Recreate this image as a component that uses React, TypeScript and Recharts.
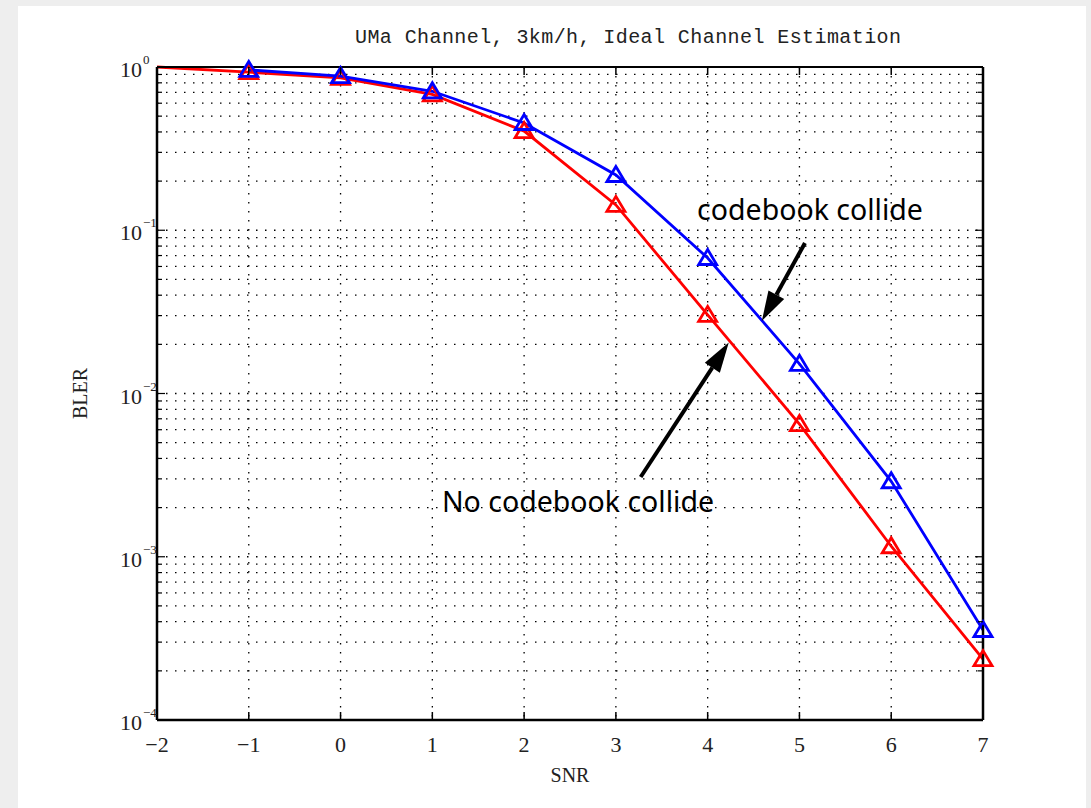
import React from "react";
import {
  LineChart,
  Line,
  XAxis,
  YAxis,
  CartesianGrid,
  ReferenceLine,
  ReferenceDot,
} from "recharts";

const snr = [-2, -1, 0, 1, 2, 3, 4, 5, 6, 7];
const noCollide = [1.0, 0.93, 0.857, 0.68, 0.405, 0.143, 0.0303, 0.0065, 0.00116, 0.000236];
const collide = [null, 0.96, 0.88, 0.71, 0.454, 0.218, 0.0676, 0.0152, 0.0029, 0.000356];

const xTicks = [-2, -1, 0, 1, 2, 3, 4, 5, 6, 7];
const xGrid = [-1, 0, 1, 2, 3, 4, 5, 6];
const decades = [1e-4, 1e-3, 1e-2, 1e-1, 1];
const decadeLabels = ["\u22124", "\u22123", "\u22122", "\u22121", "0"];

const yTicks: number[] = [];
decades.slice(0, 4).forEach((d) => {
  for (let m = 1; m < 10; m++) yTicks.push(+(d * m).toPrecision(3));
});
yTicks.push(1);
const yGrid = yTicks.filter((v) => v > 1e-4 && v < 1);

const data = snr.map((s, i) => ({
  snr: s,
  red: noCollide[i],
  blue: collide[i],
}));

const SERIF = "'Liberation Serif', 'DejaVu Serif', serif";
const SANS = "'Noto Sans', 'Open Sans', sans-serif";

const isDecade = (v: number) => decades.some((d) => Math.abs(v - d) / d < 1e-6);

const LeftTick = (props: any) => {
  const { x, y, payload } = props;
  const v = payload.value;
  const major = isDecade(v);
  const idx = decades.findIndex((d) => Math.abs(v - d) / d < 1e-6);
  return (
    <g>
      <line x1={x} y1={y} x2={x + (major ? 8 : 5)} y2={y} stroke="#000" strokeWidth={1.2} />
      {major && (
        <text x={x - 15} y={y + 10} textAnchor="end" fontFamily={SERIF} fontSize={22} fill="#222">
          10
        </text>
      )}
      {major && (
        <text x={x - 14} y={y - 3} textAnchor="start" fontFamily={SERIF} fontSize={13} fill="#222">
          {decadeLabels[idx]}
        </text>
      )}
    </g>
  );
};

const RightTick = (props: any) => {
  const { x, y, payload } = props;
  const major = isDecade(payload.value);
  return <line x1={x} y1={y} x2={x - (major ? 8 : 5)} y2={y} stroke="#000" strokeWidth={1.2} />;
};

const BottomTick = (props: any) => {
  const { x, y, payload } = props;
  const v = payload.value;
  return (
    <g>
      <line x1={x} y1={y} x2={x} y2={y - 8} stroke="#000" strokeWidth={1.5} />
      <text x={x} y={y + 32} textAnchor="middle" fontFamily={SERIF} fontSize={22} fill="#222">
        {v < 0 ? "\u2212" + Math.abs(v) : String(v)}
      </text>
    </g>
  );
};

const TopTick = (props: any) => {
  const { x, y } = props;
  return <line x1={x} y1={y} x2={x} y2={y + 8} stroke="#000" strokeWidth={1.5} />;
};

const triangle = (color: string) => (props: any) => {
  const { cx, cy, payload, value } = props;
  if (value == null || cx == null || cy == null) return <g key={`n${cx}`} />;
  if (payload && payload.snr === -2) return <g key={`s${cx}`} />;
  return (
    <path
      key={`t${cx}-${color}`}
      d={`M${cx},${cy - 8.5} L${cx - 9},${cy + 6.5} L${cx + 9},${cy + 6.5} Z`}
      fill="none"
      stroke={color}
      strokeWidth={2.8}
      strokeLinejoin="miter"
    />
  );
};

const Arrow = (props: any) => {
  const { x1, y1, x2, y2 } = props;
  if (x1 == null) return <g />;
  const dx = x2 - x1;
  const dy = y2 - y1;
  const len = Math.sqrt(dx * dx + dy * dy);
  const ux = dx / len;
  const uy = dy / len;
  const head = 30;
  const half = 9;
  const bx = x2 - ux * head;
  const by = y2 - uy * head;
  return (
    <g>
      <line x1={x1} y1={y1} x2={bx} y2={by} stroke="#000" strokeWidth={4} />
      <polygon
        points={`${x2},${y2} ${bx - uy * half},${by + ux * half} ${bx + uy * half},${by - ux * half}`}
        fill="#000"
      />
    </g>
  );
};

// arrow ends and label anchors in data units
const arrowCollide = [{ x: 5.06, y: 0.0835 }, { x: 4.59, y: 0.0278 }];
const arrowNoCollide = [{ x: 3.27, y: 0.00308 }, { x: 4.23, y: 0.0205 }];
const labelCollide = { x: 5.115, y: 0.133, text: "codebook collide" };
const labelNoCollide = { x: 2.587, y: 0.00216, text: "No codebook collide" };

const LabelShape = (text: string) => (props: any) => (
  <text
    x={props.cx}
    y={props.cy + 10}
    textAnchor="middle"
    fontFamily={SANS}
    fontSize={28.5}
    fill="#000"
  >
    {text}
  </text>
);

export default function App() {
  return (
    <div
      style={{
        position: "absolute",
        left: 0,
        top: 0,
        width: 1091,
        height: 808,
        background: "#eeeeee",
      }}
    >
      <div
        style={{
          position: "absolute",
          left: 18,
          top: 6,
          width: 1068,
          height: 802,
          background: "#ffffff",
        }}
      />
      <div style={{ position: "absolute", left: 0, top: 0 }}>
        <LineChart
          width={1091}
          height={808}
          data={data}
          margin={{ top: 57, right: 98, bottom: 58, left: 100 }}
        >
          <text
            x={628}
            y={43}
            textAnchor="middle"
            fontFamily="'Liberation Mono', 'DejaVu Sans Mono', monospace"
            fontSize={20}
            textLength={546}
            fill="#222"
          >
            UMa Channel, 3km/h, Ideal Channel Estimation
          </text>
          <CartesianGrid
            horizontalValues={yGrid}
            verticalValues={xGrid}
            stroke="#000"
            strokeWidth={1.3}
            strokeDasharray="1.5 7.5"
          />
          <XAxis
            dataKey="snr"
            type="number"
            domain={[-2, 7]}
            ticks={xTicks}
            height={30}
            tickSize={0}
            tickMargin={0}
            tickLine={false}
            axisLine={{ stroke: "#000", strokeWidth: 2.5 }}
            tick={BottomTick}
            interval={0}
            label={{
              value: "SNR",
              position: "insideBottom",
              offset: -32,
              style: { fontFamily: SERIF, fontSize: 20, fill: "#222" },
            }}
          />
          <XAxis
            xAxisId="top"
            orientation="top"
            dataKey="snr"
            type="number"
            domain={[-2, 7]}
            ticks={xTicks}
            height={10}
            tickSize={0}
            tickMargin={0}
            tickLine={false}
            axisLine={{ stroke: "#000", strokeWidth: 2 }}
            tick={TopTick}
            interval={0}
          />
          <YAxis
            scale="log"
            type="number"
            domain={[1e-4, 1]}
            ticks={yTicks}
            width={57}
            tickSize={0}
            tickMargin={0}
            tickLine={false}
            axisLine={{ stroke: "#000", strokeWidth: 2.5 }}
            tick={LeftTick}
            interval={0}
            label={{
              value: "BLER",
              angle: -90,
              position: "insideLeft",
              offset: -20,
              style: { fontFamily: SERIF, fontSize: 20, fill: "#222", textAnchor: "middle" },
            }}
          />
          <YAxis
            yAxisId="right"
            orientation="right"
            scale="log"
            type="number"
            domain={[1e-4, 1]}
            ticks={yTicks}
            allowDataOverflow
            width={10}
            tickSize={0}
            tickMargin={0}
            tickLine={false}
            axisLine={{ stroke: "#000", strokeWidth: 2.5 }}
            tick={RightTick}
            interval={0}
          />
          <Line
            dataKey="red"
            stroke="#ff0000"
            strokeWidth={2.8}
            dot={triangle("#ff0000")}
            activeDot={false}
            isAnimationActive={false}
          />
          <Line
            dataKey="blue"
            stroke="#0000ff"
            strokeWidth={2.8}
            dot={triangle("#0000ff")}
            activeDot={false}
            isAnimationActive={false}
          />
          <ReferenceLine
            segment={arrowCollide}
            shape={Arrow}
            ifOverflow="visible"
          />
          <ReferenceLine
            segment={arrowNoCollide}
            shape={Arrow}
            ifOverflow="visible"
          />
          <ReferenceDot
            x={labelCollide.x}
            y={labelCollide.y}
            r={0}
            shape={LabelShape(labelCollide.text)}
            ifOverflow="visible"
          />
          <ReferenceDot
            x={labelNoCollide.x}
            y={labelNoCollide.y}
            r={0}
            shape={LabelShape(labelNoCollide.text)}
            ifOverflow="visible"
          />
        </LineChart>
      </div>
    </div>
  );
}
